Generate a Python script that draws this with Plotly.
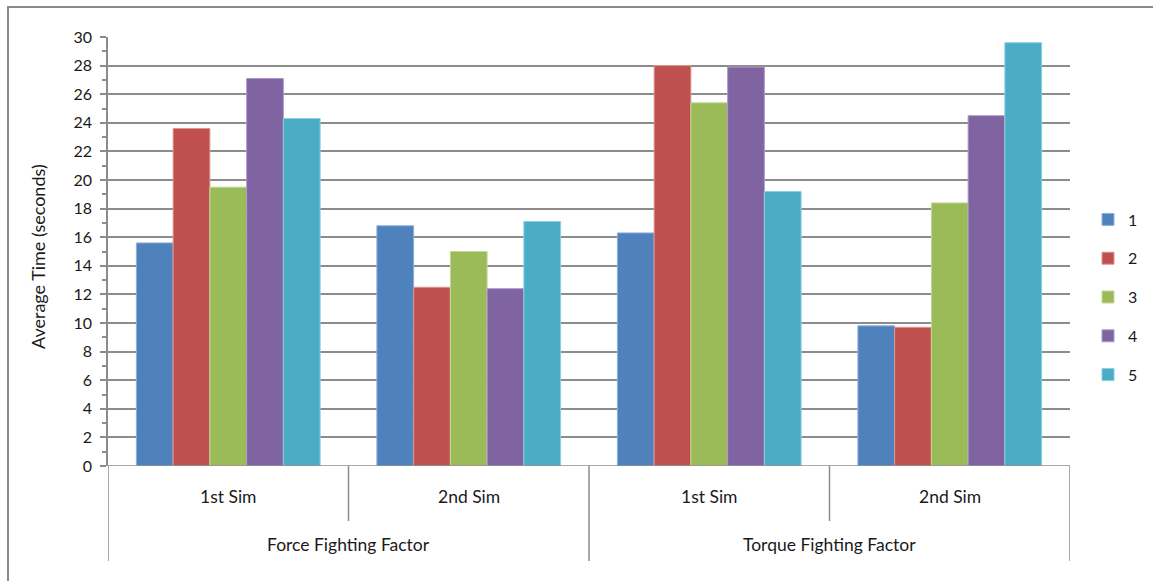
import plotly.graph_objects as go

# Clustered bar data: two fighting-factor groups, each run twice
factors = ["Force Fighting Factor", "Torque Fighting Factor"]
sims = ["1st Sim", "2nd Sim", "1st Sim", "2nd Sim"]
series_names = ["1", "2", "3", "4", "5"]
series_values = [
    [15.6, 16.8, 16.3, 9.8],
    [23.6, 12.5, 28.0, 9.7],
    [19.5, 15.0, 25.4, 18.4],
    [27.1, 12.4, 27.9, 24.5],
    [24.3, 17.1, 19.2, 29.6],
]
colors = ["#4F81BD", "#C0504D", "#9BBB59", "#8064A2", "#4BACC6"]
edge_colors = ["#8FB0DA", "#DC9694", "#C3DA9A", "#AE9AC8", "#8ACFE0"]
y_ticks = list(range(0, 31, 2))

W, H = 1153, 581
L, R, T, B = 108, 1070, 37, 466  # plot area in pixels
FONT = "Lato"
TEXT = "#1a1a1a"
AXIS_GRAY = "#8C8C8C"


def px_x(p):
    return (p - L) / (R - L)


def px_y(p):
    return (B - p) / (B - T)


fig = go.Figure()
positions = list(range(len(sims)))
for i, (name, vals) in enumerate(zip(series_names, series_values)):
    fig.add_trace(go.Bar(
        x=positions, y=vals, name=name,
        marker=dict(color=colors[i], line=dict(color=edge_colors[i], width=1)),
        legendgroup=name,
    ))

shapes = []
# chart frame (left and top edges)
shapes.append(dict(type="line", xref="paper", yref="paper",
                   x0=px_x(8), x1=px_x(8), y0=px_y(7), y1=px_y(590),
                   line=dict(color="#8A8A8A", width=2)))
shapes.append(dict(type="line", xref="paper", yref="paper",
                   x0=px_x(7), x1=px_x(1160), y0=px_y(7), y1=px_y(7),
                   line=dict(color="#8A8A8A", width=2)))
# category dividers: short for sims, long for factor groups
for k in range(len(sims) + 1):
    xb = k - 0.5
    bottom = 561 if k % 2 == 0 else 521
    shapes.append(dict(type="line", xref="x", yref="paper",
                       x0=xb, x1=xb, y0=0, y1=px_y(bottom),
                       line=dict(color=AXIS_GRAY, width=1.5)))
# x axis baseline
shapes.append(dict(type="line", xref="paper", yref="y",
                   x0=0, x1=1, y0=0, y1=0,
                   line=dict(color=AXIS_GRAY, width=1.5)))

annotations = []
for k, s in enumerate(sims):
    annotations.append(dict(x=k, y=px_y(496), xref="x", yref="paper", text=s,
                            showarrow=False, font=dict(family=FONT, size=17.5, color=TEXT),
                            xanchor="center", yanchor="middle"))
for g, f in enumerate(factors):
    annotations.append(dict(x=2 * g + 0.5, y=px_y(544), xref="x", yref="paper", text=f,
                            showarrow=False, font=dict(family=FONT, size=17.5, color=TEXT),
                            xanchor="center", yanchor="middle"))
annotations.append(dict(x=px_x(38), y=px_y(257), xref="paper", yref="paper",
                        text="Average Time (seconds)", textangle=-90, showarrow=False,
                        font=dict(family=FONT, size=18, color=TEXT),
                        xanchor="center", yanchor="middle"))

fig.update_layout(
    width=W, height=H,
    margin=dict(l=L, r=W - R, t=T, b=H - B, pad=0, autoexpand=False),
    paper_bgcolor="white", plot_bgcolor="white",
    barmode="group", bargap=0.236, bargroupgap=0,
    font=dict(family=FONT, size=16, color=TEXT),
    xaxis=dict(range=[-0.5, len(sims) - 0.5], showticklabels=False, showgrid=False,
               zeroline=False, showline=False, ticks=""),
    yaxis=dict(range=[0, 30], tickvals=y_ticks, ticks="outside", ticklen=6,
               tickcolor=AXIS_GRAY, tickwidth=1.5,
               showgrid=True, gridcolor=AXIS_GRAY, gridwidth=1.5,
               showline=True, linecolor=AXIS_GRAY, linewidth=1.5, zeroline=False,
               ticklabelstandoff=5,
               minor=dict(dtick=1, ticks="outside", ticklen=4, tickcolor=AXIS_GRAY,
                          tickwidth=1.5, showgrid=False),
               tickfont=dict(family=FONT, size=16, color=TEXT)),
    legend=dict(x=px_x(1088), y=px_y(297), xanchor="left", yanchor="middle",
                tracegroupgap=15, font=dict(family=FONT, size=16, color=TEXT),
                bgcolor="rgba(0,0,0,0)"),
    shapes=shapes, annotations=annotations,
    showlegend=True,
)

fig.write_html("out.html")
